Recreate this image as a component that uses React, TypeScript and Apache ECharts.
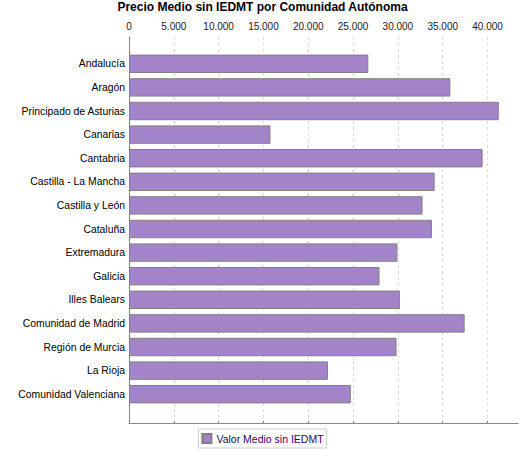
import React, { useEffect, useRef } from "react";
import * as echarts from "echarts";

const categories = [
  "Andalucía",
  "Aragón",
  "Principado de Asturias",
  "Canarias",
  "Cantabria",
  "Castilla - La Mancha",
  "Castilla y León",
  "Cataluña",
  "Extremadura",
  "Galicia",
  "Illes Balears",
  "Comunidad de Madrid",
  "Región de Murcia",
  "La Rioja",
  "Comunidad Valenciana",
];

const valorMedio = [
  26700, 35850, 41250, 15780, 39450, 34100, 32750, 33800, 29950, 27950, 30220,
  37450, 29850, 22200, 24750,
];

const seriesName = "Valor Medio sin IEDMT";
const titleText = "Precio Medio sin IEDMT por Comunidad Autónoma";
const axisMax = 43400;
const axisInterval = 5000;

function fmt(v: number): string {
  const s = String(Math.round(v));
  return s.replace(/\B(?=(\d{3})+(?!\d))/g, ".");
}

export default function App() {
  const ref = useRef<HTMLDivElement>(null);

  useEffect(() => {
    if (!ref.current) return;
    document.body.style.margin = "0";
    const chart = echarts.init(ref.current, undefined, { renderer: "svg" });
    const font = "Liberation Sans, Arial, sans-serif";
    chart.setOption({
      animation: false,
      backgroundColor: "#ffffff",
      textStyle: { fontFamily: font },
      title: {
        text: titleText,
        left: "center",
        top: 1,
        padding: 0,
        textStyle: {
          fontFamily: font,
          fontSize: 12,
          fontWeight: "bold",
          color: "#000000",
        },
      },
      legend: {
        data: [seriesName],
        left: "center",
        bottom: 2,
        padding: [4, 3, 4, 3],
        borderColor: "#cccccc",
        borderWidth: 1,
        itemWidth: 9,
        itemHeight: 9,
        icon: "rect",
        textStyle: { fontFamily: font, fontSize: 10.5, color: "#330066" },
      },
      grid: [
        { left: 129, right: 7, top: 37, bottom: 27, containLabel: false },
        { left: 129, right: 7, top: 52, bottom: 44, containLabel: false },
      ],
      xAxis: [
        {
          type: "value",
          gridIndex: 0,
          position: "top",
          min: 0,
          max: axisMax,
          interval: axisInterval,
          axisLine: { show: true, lineStyle: { color: "#888888", width: 1 } },
          axisTick: { show: true, length: 2, lineStyle: { color: "#888888" } },
          axisLabel: {
            show: true,
            margin: 6,
            fontFamily: font,
            fontSize: 10,
            color: "#222222",
            showMaxLabel: false,
            formatter: (v: number) => fmt(v),
          },
          splitLine: {
            show: true,
            showMinLine: false,
            showMaxLine: false,
            lineStyle: { color: "#dddddd", type: [3, 3], width: 1 },
          },
        },
        {
          type: "value",
          gridIndex: 1,
          min: 0,
          max: axisMax,
          show: false,
        },
      ],
      yAxis: [
        {
          type: "value",
          gridIndex: 0,
          min: 0,
          max: 1,
          axisLine: { show: true, lineStyle: { color: "#888888", width: 1 } },
          axisTick: { show: false },
          axisLabel: { show: false },
          splitLine: { show: false },
        },
        {
          type: "category",
          gridIndex: 1,
          inverse: true,
          data: categories,
          axisLine: { show: false },
          axisTick: { show: false },
          axisLabel: {
            margin: 4,
            fontFamily: font,
            fontSize: 10.4,
            color: "#000000",
          },
          splitLine: { show: false },
        },
      ],
      series: [
        {
          name: seriesName,
          type: "bar",
          xAxisIndex: 1,
          yAxisIndex: 1,
          data: valorMedio,
          barCategoryGap: "22%",
          itemStyle: {
            color: "#a384c8",
            borderColor: "#808080",
            borderWidth: 1,
          },
        },
      ],
    });
    return () => chart.dispose();
  }, []);

  return (
    <div
      ref={ref}
      style={{ position: "absolute", left: 0, top: 0, width: 525, height: 450 }}
    />
  );
}
